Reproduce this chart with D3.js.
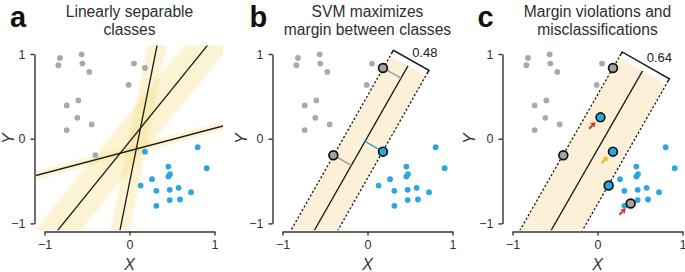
<!DOCTYPE html>
<html><head><meta charset="utf-8">
<script src="https://cdn.jsdelivr.net/npm/d3@7"></script>
<style>
body{margin:0;background:#fff}
text{font-family:"Liberation Sans",Arial,Helvetica,sans-serif}
</style>
</head><body>
<svg id="chart" width="685" height="272"></svg>
<script>
// ---------- data ----------
const tickValues = [-1, 0, 1];
const tickLabels = ["\u22121", "0", "1"];

const grayX = [-0.818, -0.837, -0.563, -0.555, -0.473, 0.053, 0.182, -0.010, -0.602, -0.739, -0.614, -0.445, -0.739, -0.402];
const grayY = [0.953, 0.867, 0.996, 0.887, 0.788, 0.887, 0.835, 0.635, 0.452, 0.393, 0.247, 0.169, 0.102, -0.195];
const blueX = [0.182, 0.802, 0.908, 0.457, 0.457, 0.476, 0.265, 0.131, 0.316, 0.473, 0.578, 0.724, 0.473, 0.594, 0.316];
const blueY = [-0.153, -0.101, -0.349, -0.329, -0.447, -0.419, -0.478, -0.553, -0.615, -0.604, -0.580, -0.631, -0.725, -0.718, -0.792];

// extra points that appear only in panel c
const extraGrayX = [0.39],  extraGrayY = [-0.765];
const extraBlueX = [0.035], extraBlueY = [0.252];

// panel a: candidate separating lines and their margin half-widths
const sepSlopes     = [0.2656, 1.24, 5.0];
const sepIntercepts = [-0.142, -0.035, -0.52];
const sepHalfWidths = [0.05, 0.21, 0.11];

// panels b, c: SVM hyperplane
const svmSlopes     = [1.764, 1.75];
const svmIntercepts = [0.02, -0.128];
const svmMargins    = [0.48, 0.64];
const svmTopY       = [0.86, 0.80];
const marginLabels  = ["0.48", "0.64"];

// support vectors (circled) panel b
const svBX = [-0.402, 0.182, 0.182], svBY = [-0.195, 0.835, -0.153], svBClass = ["gray", "gray", "blue"];
// circled points panel c
const svCX = [0.182, -0.402, 0.39, 0.035, 0.182, 0.131];
const svCY = [0.835, -0.195, -0.765, 0.252, -0.153, -0.553];
const svCClass = ["gray", "gray", "gray", "blue", "blue", "blue"];
// arrows in panel c (point targets)
const arrowX = [0.035, 0.182, 0.39], arrowY = [0.252, -0.153, -0.765];
const arrowKind = ["misclassified", "violation", "misclassified"];

const titles = [["Linearly separable", "classes"], ["SVM maximizes", "margin between classes"], ["Margin violations and", "misclassifications"]];
const letters = ["a", "b", "c"];

// ---------- layout / style ----------
const panelCX = [129.5, 367.5, 597.5];
const letterX = [10, 249.5, 477.5];
const yLabelX = [14, 246.5, 474.5];
const C = {gray: "#a9a9a9", blue: "#29a8e0", ink: "#1a1a1a", axis: "#333",
  bandA: "#f6d86a", bandSVM: "#fdf0d8", red: "#e3262b", orange: "#f2b51d"};

const svg = d3.select("#chart");
const defs = svg.append("defs");
defs.append("filter").attr("id", "soft").attr("x", "-20%").attr("y", "-20%").attr("width", "140%").attr("height", "140%")
  .append("feGaussianBlur").attr("stdDeviation", 1.6);

function makePanel(i) {
  const cx = panelCX[i];
  const x = d3.scaleLinear().domain([-1, 1]).range([cx - 85, cx + 85]);
  const y = d3.scaleLinear().domain([-1, 1]).range([223.4, 54]);
  const g = svg.append("g");

  const cid = "clip" + i;
  defs.append("clipPath").attr("id", cid).append("rect")
    .attr("x", x(-1.1)).attr("y", y(1.1)).attr("width", x(1.1) - x(-1.1)).attr("height", y(-1.08) - y(1.1));

  g.append("text").attr("x", letterX[i]).attr("y", 26.5).attr("font-size", 29).attr("font-weight", "bold")
    .attr("fill", "#111").text(letters[i]);
  titles[i].forEach((t, k) => g.append("text").attr("x", cx).attr("y", 16.5 + k * 18)
    .attr("text-anchor", "middle").attr("font-size", 15.6).attr("fill", "#2e2e2e").text(t));

  const ax = g.append("g").attr("transform", `translate(0,231.5)`)
    .call(d3.axisBottom(x).tickValues(tickValues).tickFormat((d, k) => tickLabels[k]).tickSize(4).tickSizeOuter(0).tickPadding(5));
  const ay = g.append("g").attr("transform", `translate(${x(-1) - 10},0)`)
    .call(d3.axisLeft(y).tickValues(tickValues).tickFormat((d, k) => tickLabels[k]).tickSize(4).tickSizeOuter(0).tickPadding(5));
  [ax, ay].forEach(a => {
    a.select(".domain").attr("stroke", C.axis).attr("stroke-width", 1.4);
    a.selectAll(".tick line").attr("stroke", C.axis).attr("stroke-width", 1.4);
    a.selectAll(".tick text").attr("font-size", 12.5).attr("fill", "#333").attr("font-family", '"Liberation Sans",Arial,sans-serif');
  });
  g.append("text").attr("x", cx).attr("y", 270).attr("text-anchor", "middle").attr("font-size", 16)
    .attr("font-style", "italic").attr("fill", "#333").text("X");
  g.append("text").attr("transform", `translate(${yLabelX[i]},${y(0)}) rotate(-90)`).attr("text-anchor", "middle")
    .attr("font-size", 16).attr("font-style", "italic").attr("fill", "#333").text("Y");

  const plot = g.append("g").attr("clip-path", `url(#${cid})`);
  return {x, y, g, plot};
}

function drawPoints(P, gx, gy, bx, by) {
  P.plot.append("g").selectAll("circle").data(gx.map((v, k) => [v, gy[k]])).join("circle")
    .attr("cx", d => P.x(d[0])).attr("cy", d => P.y(d[1])).attr("r", 2.9).attr("fill", C.gray);
  P.plot.append("g").selectAll("circle").data(bx.map((v, k) => [v, by[k]])).join("circle")
    .attr("cx", d => P.x(d[0])).attr("cy", d => P.y(d[1])).attr("r", 2.9).attr("fill", C.blue);
}
function drawCircled(P, xs, ys, cls) {
  P.g.append("g").selectAll("circle").data(xs.map((v, k) => [v, ys[k], cls[k]])).join("circle")
    .attr("cx", d => P.x(d[0])).attr("cy", d => P.y(d[1])).attr("r", 4.4)
    .attr("fill", d => d[2] === "gray" ? "#a3a3a3" : C.blue).attr("stroke", "#111").attr("stroke-width", 1.7);
}

// ---------- panel a ----------
{
  const P = makePanel(0);
  const bands = P.plot.append("g").attr("filter", "url(#soft)");
  sepSlopes.forEach((m, k) => {
    const b = sepIntercepts[k], d = sepHalfWidths[k] * Math.sqrt(1 + m * m);
    const pts = [[-2, m * -2 + b + d], [2, m * 2 + b + d], [2, m * 2 + b - d], [-2, m * -2 + b - d]];
    bands.append("polygon").attr("points", pts.map(p => [P.x(p[0]), P.y(p[1])].join(",")).join(" "))
      .attr("fill", C.bandA).attr("fill-opacity", 0.3);
  });
  sepSlopes.forEach((m, k) => {
    const b = sepIntercepts[k];
    P.plot.append("line").attr("x1", P.x(-2)).attr("y1", P.y(m * -2 + b)).attr("x2", P.x(2)).attr("y2", P.y(m * 2 + b))
      .attr("stroke", C.ink).attr("stroke-width", 1.3);
  });
  drawPoints(P, grayX, grayY, blueX, blueY);
}

// ---------- panels b, c ----------
function svmPanel(i, j) {
  const P = makePanel(i);
  const m = svmSlopes[j], b = svmIntercepts[j], M = svmMargins[j];
  const n = Math.sqrt(1 + m * m);
  const u = [1 / n, m / n], nv = [m / n, -1 / n];
  const T = [(svmTopY[j] - b) / m, svmTopY[j]];
  const TL = [T[0] - nv[0] * M / 2, T[1] - nv[1] * M / 2];
  const TR = [T[0] + nv[0] * M / 2, T[1] + nv[1] * M / 2];
  const down = p => [p[0] - 4 * u[0], p[1] - 4 * u[1]];
  const px = p => [P.x(p[0]), P.y(p[1])];
  const poly = [TL, TR, down(TR), down(TL)].map(px);
  P.plot.append("polygon").attr("points", poly.map(p => p.join(",")).join(" ")).attr("fill", C.bandSVM);
  [TL, TR].forEach(p => {
    const a = px(p), c = px(down(p));
    P.plot.append("line").attr("x1", a[0]).attr("y1", a[1]).attr("x2", c[0]).attr("y2", c[1])
      .attr("stroke", C.ink).attr("stroke-width", 1.3).attr("stroke-dasharray", "2.2,2");
  });
  const t0 = px(T), t1 = px(down(T));
  P.plot.append("line").attr("x1", t0[0]).attr("y1", t0[1]).attr("x2", t1[0]).attr("y2", t1[1])
    .attr("stroke", C.ink).attr("stroke-width", 1.3);

  const a0 = px(T), a1 = px([T[0] + u[0], T[1] + u[1]]);
  const ul = Math.hypot(a1[0] - a0[0], a1[1] - a0[1]);
  const up = [(a1[0] - a0[0]) / ul, (a1[1] - a0[1]) / ul];
  const pl = px(TL), pr = px(TR);
  const BL = [pl[0] + up[0] * 6.4, pl[1] + up[1] * 6.4], BR = [pr[0] + up[0] * 6.4, pr[1] + up[1] * 6.4];
  const br = P.g.append("g").attr("stroke", C.ink).attr("stroke-width", 1.5).attr("fill", "none");
  br.append("path").attr("d", `M${BL[0] - up[0] * 4.5},${BL[1] - up[1] * 4.5}L${BL[0]},${BL[1]}L${BR[0]},${BR[1]}L${BR[0] - up[0] * 4.5},${BR[1] - up[1] * 4.5}`);
  const mid = [(BL[0] + BR[0]) / 2, (BL[1] + BR[1]) / 2];
  P.g.append("text").attr("x", mid[0] + 1).attr("y", mid[1] - 3).attr("font-size", 13).attr("fill", "#222").text(marginLabels[j]);
  return {P, m, b};
}

{
  const {P, m, b} = svmPanel(1, 0);
  svBX.forEach((vx, k) => {
    const vy = svBY[k];
    const s = (m * vx - vy + b) / (m * m + 1);
    const F = [vx - s * m, vy + s];
    P.plot.append("line").attr("x1", P.x(vx)).attr("y1", P.y(vy)).attr("x2", P.x(F[0])).attr("y2", P.y(F[1]))
      .attr("stroke", svBClass[k] === "gray" ? "#9c9c9c" : C.blue).attr("stroke-width", 1.4);
  });
  drawPoints(P, grayX, grayY, blueX, blueY);
  drawCircled(P, svBX, svBY, svBClass);
}

{
  const {P} = svmPanel(2, 1);
  drawPoints(P, grayX.concat(extraGrayX), grayY.concat(extraGrayY), blueX.concat(extraBlueX), blueY.concat(extraBlueY));
  drawCircled(P, svCX, svCY, svCClass);
  const dir = [-Math.SQRT1_2, Math.SQRT1_2];
  arrowX.forEach((ax, k) => {
    const col = arrowKind[k] === "violation" ? C.orange : C.red;
    const tx = P.x(ax), ty = P.y(arrowY[k]);
    const head = [tx + dir[0] * 7, ty + dir[1] * 7];
    const base = [tx + dir[0] * 11.5, ty + dir[1] * 11.5];
    const tail = [tx + dir[0] * 16, ty + dir[1] * 16];
    const perp = [-dir[1], dir[0]];
    P.g.append("line").attr("x1", tail[0]).attr("y1", tail[1]).attr("x2", base[0]).attr("y2", base[1])
      .attr("stroke", col).attr("stroke-width", 2);
    P.g.append("polygon").attr("points", [head, [base[0] + perp[0] * 3, base[1] + perp[1] * 3], [base[0] - perp[0] * 3, base[1] - perp[1] * 3]]
      .map(p => p.join(",")).join(" ")).attr("fill", col);
  });
}
</script>
</body></html>
